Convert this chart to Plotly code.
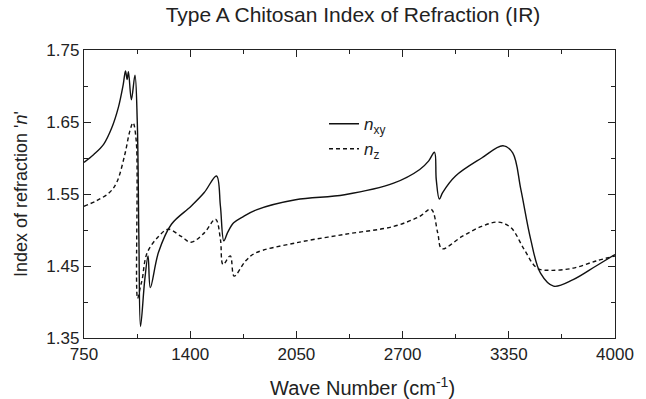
import plotly.graph_objects as go

# n_xy (solid)
wn_xy = [750, 810, 870, 920, 960, 990, 1004, 1014, 1022, 1040, 1062, 1076, 1086, 1096, 1122, 1142, 1156,
         1206, 1285, 1405, 1486, 1561, 1585, 1606, 1630, 1666, 1720, 1805, 2045, 2345, 2645, 2805, 2860, 2895,
         2906, 2925, 2945, 3024, 3184, 3314, 3374, 3424, 3484, 3544, 3624, 3744, 3884, 4000]
n_xy = [1.594, 1.605, 1.619, 1.642, 1.670, 1.702, 1.721, 1.709, 1.720, 1.681, 1.715, 1.651, 1.487, 1.366, 1.431, 1.464, 1.420,
        1.469, 1.508, 1.533, 1.552, 1.575, 1.533, 1.485, 1.497, 1.510, 1.518, 1.528, 1.542, 1.549, 1.565, 1.584, 1.596, 1.608,
        1.570, 1.543, 1.552, 1.575, 1.600, 1.617, 1.607, 1.556, 1.487, 1.440, 1.422, 1.431, 1.450, 1.466]

# n_z (dashed)
wn_z = [750, 830, 906, 950, 1000, 1030, 1050, 1070, 1078, 1096, 1106, 1136, 1206, 1266, 1345, 1405, 1486, 1555, 1585,
        1601, 1645, 1669, 1739, 1799, 2045, 2345, 2645, 2805, 2874, 2915, 2940, 3064, 3184, 3284,
        3364, 3444, 3524, 3604, 3744, 3884, 4000]
n_z = [1.533, 1.541, 1.552, 1.566, 1.605, 1.637, 1.649, 1.623, 1.405, 1.422, 1.431, 1.468, 1.491, 1.501, 1.491, 1.483, 1.496, 1.515, 1.487,
       1.452, 1.464, 1.436, 1.457, 1.468, 1.482, 1.494, 1.505, 1.519, 1.529, 1.496, 1.474, 1.491, 1.505, 1.511,
       1.503, 1.473, 1.447, 1.444, 1.447, 1.457, 1.464]

x_ticks = [750, 1400, 2050, 2700, 3350, 4000]
y_ticks = [1.35, 1.45, 1.55, 1.65, 1.75]

FONT = "Liberation Sans, Arial, sans-serif"
AX = "#222222"
TXT = "#222222"

fig = go.Figure()
fig.add_trace(go.Scatter(x=wn_xy, y=n_xy, mode="lines", name="<i>n</i><sub>xy</sub>",
                         line=dict(color="#111111", width=1.4, shape="spline", smoothing=1.0)))
fig.add_trace(go.Scatter(x=wn_z, y=n_z, mode="lines", name="<i>n</i><sub>z</sub>",
                         line=dict(color="#111111", width=1.4, dash="4px,3px", shape="spline", smoothing=1.0)))

fig.update_layout(
    width=646, height=399,
    margin=dict(l=84, r=20, t=50, b=61),
    paper_bgcolor="white", plot_bgcolor="white",
    font=dict(family=FONT, color=TXT),
    title=dict(text="Type A Chitosan Index of Refraction (IR)", x=353 / 646, xanchor="center",
               y=1 - 15 / 399, yanchor="middle", font=dict(size=21, family=FONT, color=TXT)),
    showlegend=True,
    legend=dict(x=0.452, y=0.805, xanchor="left", yanchor="top", bgcolor="rgba(0,0,0,0)",
                font=dict(size=17, family=FONT, color=TXT), tracegroupgap=0, itemwidth=30),
    annotations=[dict(text="Wave Number (cm<sup>-1</sup>)", xref="paper", yref="paper",
                      x=(368 - 84) / 542, y=-(386 - 338) / 288, xanchor="center", yanchor="middle",
                      showarrow=False, font=dict(size=20, family=FONT, color=TXT))],
)
fig.update_xaxes(range=[750, 4000], tickvals=x_ticks, ticktext=[str(v) for v in x_ticks],
                 ticks="inside", ticklen=7, tickwidth=1, tickcolor=AX,
                 minor=dict(dtick=325, tick0=750, ticks="inside", ticklen=4, tickcolor=AX),
                 showline=True, linecolor=AX, linewidth=1.3, mirror="ticks",
                 showgrid=False, zeroline=False,
                 tickfont=dict(size=17, family=FONT, color=TXT))
fig.update_yaxes(range=[1.35, 1.75], tickvals=y_ticks, ticktext=["1.35", "1.45", "1.55", "1.65", "1.75"],
                 ticks="inside", ticklen=7, tickwidth=1, tickcolor=AX,
                 minor=dict(dtick=0.05, tick0=1.35, ticks="inside", ticklen=4, tickcolor=AX),
                 showline=True, linecolor=AX, linewidth=1.3, mirror="ticks",
                 showgrid=False, zeroline=False,
                 tickfont=dict(size=17, family=FONT, color=TXT),
                 title=dict(text="Index of refraction '<i>n</i>'", font=dict(size=18, family=FONT, color=TXT),
                            standoff=14))

fig.write_html("out.html")
